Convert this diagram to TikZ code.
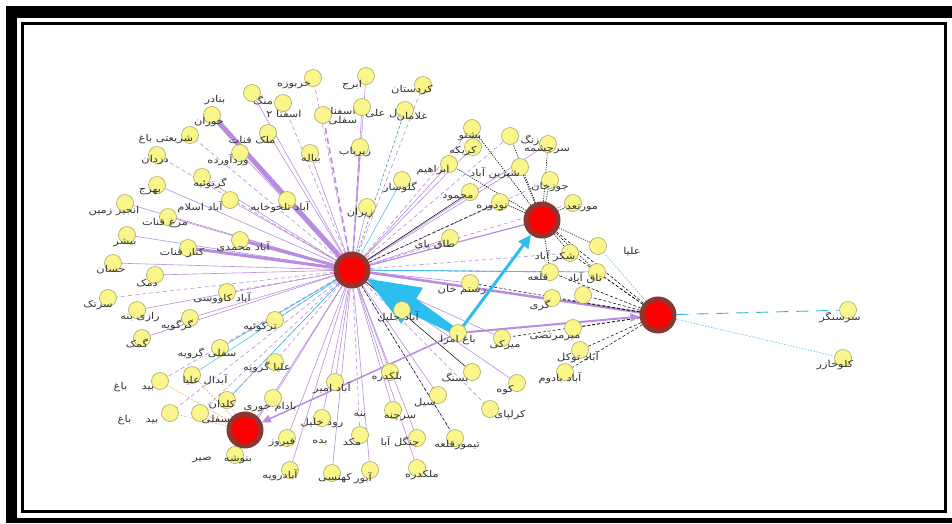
\documentclass[tikz,border=0pt]{standalone}
\usepackage{fontspec}
\newfontfamily\arabicfont[Script=Arabic]{DejaVu Sans}
\TeXXeTstate=1
\usetikzlibrary{calc,arrows.meta}
\definecolor{lav}{RGB}{185,140,225}
\definecolor{cyanA}{RGB}{45,190,240}
\definecolor{teal2}{RGB}{60,150,150}
\definecolor{ringc}{RGB}{140,55,50}
\definecolor{yel}{RGB}{250,246,140}
\definecolor{yelo}{RGB}{170,165,95}
\definecolor{orng}{RGB}{225,165,90}
\newcommand\ar[1]{\scalebox{1.2}[1]{\arabicfont #1}}
\newcommand\yn[6]{\node[yn] (#1) at (#2,#3) {}; \node[lab] (#1l) at (#4,#5) {\ar{#6}};}
\newcommand\tx[4]{\node[lab] (#1) at (#2,#3) {\ar{#4}};}
\pgfdeclarelayer{back}
\pgfdeclarelayer{bg}
\pgfsetlayers{back,bg,main}
\tikzset{
  yn/.style={circle, fill=yel, draw=yelo, line width=0.6pt, minimum size=17pt, inner sep=0pt},
  hub/.style={circle, fill=red, draw=ringc, line width=5pt, minimum size=32pt, inner sep=0pt},
  lab/.style={inner sep=0pt, text=black!80, font=\fontsize{9.5}{10}\selectfont},
  e/.style={draw=lav, line width=0.6pt},
  ed/.style={draw=lav, line width=0.6pt, dash pattern=on 4pt off 3pt},
  edd/.style={draw=lav, line width=1.6pt, dash pattern=on 6pt off 4pt},
  et/.style={draw=lav, line width=#1},
  ek/.style={draw=black, line width=0.5pt, dash pattern=on 3pt off 2pt},
  ekd/.style={draw=black, line width=0.6pt, dash pattern=on 1.2pt off 1.2pt},
  eks/.style={draw=black, line width=0.5pt},
  ec/.style={draw=cyanA, line width=0.5pt},
  ecd/.style={draw=cyanA, line width=0.5pt, dash pattern=on 1.5pt off 1.5pt},
  ecl/.style={draw=cyanA!80!teal2, line width=0.9pt, dash pattern=on 12pt off 8pt},
  etl/.style={draw=teal2, line width=0.6pt, dash pattern=on 3pt off 2pt},
  eo/.style={draw=orng, line width=0.5pt, dash pattern=on 2pt off 1.5pt},
}
\begin{document}
\begin{tikzpicture}[x=1pt,y=-1pt]
\useasboundingbox (0,0) rectangle (952,523);
\begin{pgfonlayer}{back}
\fill[white] (0,0) rectangle (952,523);
\end{pgfonlayer}
% frame
\fill[black] (6,6) rectangle (17,523);
\fill[black] (6,6) rectangle (952,18);
\fill[black] (6,518) rectangle (952,523);
\draw[line width=3pt] (22.5,23.5) rectangle (945.5,511.5);

% hubs
\node[hub] (A) at (352,270) {};
\node[hub] (B) at (542,220) {};
\node[hub] (C) at (658,315) {};
\node[hub] (D) at (245,430) {};

% yellow nodes
\yn{n1}{313}{78}{294}{85}{\beginR خربوزه\endR}
\yn{n2}{252}{93}{263}{100}{\beginR منگ\endR}
\yn{n3}{283}{103}{284}{114}{\beginR اسفنا ۲\endR}
\yn{n4}{323}{115}{343}{111}{\beginR اسفنا\endR}
\tx{n4b}{343}{121}{\beginR سفلی\endR}
\yn{n5}{366}{76}{352}{85}{\beginR ابرج\endR}
\yn{n6}{423}{85}{412}{90}{\beginR کردستان\endR}
\yn{n7}{362}{107}{383}{113}{\beginR آل علی\endR}
\yn{n8}{405}{110}{412}{117}{\beginR غلامان\endR}
\yn{n9}{360}{147}{355}{152}{\beginR زیرباب\endR}
\yn{n10}{212}{115}{209}{122}{\beginR خوران\endR}
\tx{t1}{215}{100}{\beginR بنادر\endR}
\yn{n11}{190}{135}{166}{139}{\beginR شریعتی باغ\endR}
\yn{n12}{268}{133}{252}{140}{\beginR ملک قنات\endR}
\yn{n13}{157}{155}{155}{160}{\beginR دزدان\endR}
\yn{n14}{240}{153}{228}{160}{\beginR وردآورده\endR}
\yn{n15}{310}{153}{311}{159}{\beginR بیاله\endR}
\yn{n16}{202}{177}{210}{183}{\beginR گرتوئیه\endR}
\yn{n17}{157}{185}{150}{192}{\beginR بهرج\endR}
\yn{n18}{230}{200}{200}{207}{\beginR آباد اسلام\endR}
\yn{n19}{125}{203}{114}{211}{\beginR انجیر زمین\endR}
\yn{n20}{287}{200}{280}{207}{\beginR آباد تلخوخابه\endR}
\yn{n21}{168}{217}{165}{223}{\beginR مرغ قنات\endR}
\yn{n22}{127}{235}{125}{243}{\beginR بیشر\endR}
\yn{n23}{240}{240}{243}{247}{\beginR آباد محمدی\endR}
\yn{n24}{188}{248}{182}{253}{\beginR کنار قنات\endR}
\yn{n25}{113}{263}{111}{270}{\beginR حسان\endR}
\yn{n26}{155}{275}{147}{283}{\beginR دمک\endR}
\yn{n27}{227}{292}{222}{298}{\beginR آباد کاووسی\endR}
\yn{n28}{108}{298}{98}{305}{\beginR سرتک\endR}
\yn{n29}{137}{310}{140}{317}{\beginR رازی بنه\endR}
\yn{n30}{190}{318}{177}{325}{\beginR گرگویه\endR}
\yn{n31}{275}{320}{260}{327}{\beginR ترکوئیه\endR}
\yn{n32}{142}{338}{137}{343}{\beginR گمک\endR}
\yn{n33}{220}{348}{207}{353}{\beginR سفلی گرویه\endR}
\yn{n34}{275}{362}{267}{367}{\beginR علیا گرویه\endR}
\yn{n35}{160}{381}{134}{387}{\beginR بید \ \ \ باغ\endR}
\yn{n36}{192}{375}{205}{380}{\beginR آبدال علیا\endR}
\yn{n37}{170}{413}{138}{420}{\beginR بید \ \ \ باغ\endR}
\yn{n38}{200}{413}{216}{420}{\beginR سفلی\endR}
\yn{n39}{227}{400}{222}{405}{\beginR کلدان\endR}
\yn{n40}{273}{398}{270}{407}{\beginR بادام جوری\endR}
\yn{n41}{235}{455}{238}{460}{\beginR بنوشه\endR}
\tx{t2}{202}{460}{\beginR صیر\endR}
\yn{n42}{287}{438}{282}{443}{\beginR فیروز\endR}
\yn{n43}{290}{470}{280}{475}{\beginR آبادرویه\endR}
\yn{n44}{322}{418}{322}{423}{\beginR رود خلیل\endR}
\yn{n45}{335}{382}{332}{388}{\beginR آباد امیر\endR}
\yn{n46}{360}{435}{352}{442}{\beginR مکد\endR}
\tx{t3}{320}{442}{\beginR بده\endR}
\yn{n47}{332}{473}{335}{478}{\beginR کهنسی\endR}
\yn{n48}{370}{470}{363}{478}{\beginR آبور\endR}
\yn{n49}{393}{410}{400}{417}{\beginR سرچنه\endR}
\tx{t4}{360}{415}{\beginR بنه\endR}
\yn{n50}{438}{395}{425}{403}{\beginR سیل\endR}
\yn{n51}{417}{438}{400}{442}{\beginR جنگل آبا\endR}
\yn{n52}{455}{438}{457}{445}{\beginR تیمورقلعه\endR}
\yn{n53}{417}{468}{422}{475}{\beginR ملکدره\endR}
\yn{n54}{450}{238}{435}{245}{\beginR طاق پای\endR}
\yn{n55}{470}{283}{462}{290}{\beginR رستم خان\endR}
\yn{n56}{402}{310}{398}{317}{\beginR آباد جلیل\endR}
\yn{n57}{458}{333}{458}{340}{\beginR باغ امرا\endR}
\yn{n58}{502}{338}{505}{345}{\beginR میرکی\endR}
\yn{n59}{390}{372}{387}{377}{\beginR بلکدره\endR}
\yn{n60}{472}{372}{455}{378}{\beginR بسنگ\endR}
\yn{n61}{517}{383}{505}{390}{\beginR کوه\endR}
\yn{n62}{367}{207}{360}{213}{\beginR زیران\endR}
\yn{n63}{402}{180}{400}{187}{\beginR گلوسار\endR}
\yn{n64}{470}{192}{458}{198}{\beginR محمود\endR}
\yn{n65}{500}{202}{492}{207}{\beginR نودوره\endR}
\yn{n66}{449}{164}{433}{170}{\beginR ابراهیم\endR}
\yn{n67}{472}{128}{470}{137}{\beginR بشتو\endR}
\yn{n68}{473}{147}{463}{151}{\beginR کریکه\endR}
\yn{n69}{510}{136}{530}{140}{\beginR زنگ\endR}
\yn{n70}{548}{144}{547}{150}{\beginR سرچشمه\endR}
\yn{n71}{520}{167}{495}{173}{\beginR شیرین آباد\endR}
\yn{n72}{550}{180}{550}{187}{\beginR جوزخان\endR}
\yn{n73}{573}{203}{582}{208}{\beginR مورتعد\endR}
\yn{n74}{570}{253}{555}{256}{\beginR شکر آباد\endR}
\yn{n75}{598}{246}{632}{252}{\beginR علیا\endR}
\yn{n76}{550}{272}{538}{277}{\beginR قلعه\endR}
\yn{n77}{597}{272}{585}{278}{\beginR تاق آباد\endR}
\yn{n78}{552}{298}{540}{305}{\beginR گری\endR}
\node[yn] (n79) at (583,295) {};
\yn{n80}{573}{328}{555}{337}{\beginR میرمرتضی\endR}
\yn{n81}{580}{350}{578}{357}{\beginR آباد توکل\endR}
\yn{n82}{565}{372}{560}{378}{\beginR آباد بادوم\endR}
\yn{n83}{848}{310}{840}{317}{\beginR سرسنگر\endR}
\yn{n84}{843}{358}{835}{365}{\beginR کلوخازر\endR}
\yn{n85}{490}{409}{510}{415}{\beginR کرلپای\endR}

% cyan arrow geometry
\coordinate (tip) at ($(A)!17pt!(n57)$);
\coordinate (hb) at ($(A)!70pt!(n57)$);

\begin{pgfonlayer}{bg}
% edges to A
\foreach \n in {n2,n5,n7,n12,n14,n15,n16,n17,n18,n19,n20,n21,n22,n25,n26,n29,n30,n32,n40,n44,n45,n54,n56,n59,n62,n66,n68,n71,n55,n58,n61,n53,n51,n50,n49,n47,n48,n43,n42,n41,n70}
  \draw[e] (A) -- (\n);
\foreach \n in {n1,n3,n6,n11,n13,n27,n28,n31,n33,n34,n35,n37,n38,n46,n39,n65,n67,n69,n72,n73,n74,n76,n77,n52,n85}
  \draw[ed] (A) -- (\n);
\draw[edd] (A) -- (n9);
\draw[edd] (A) -- (n4);
\draw[et=5pt] (A) -- (n10);
\draw[et=3pt] (A) -- (n23);
\draw[et=3pt] (A) -- (n24);
\draw[et=2.5pt] (A) -- (C);
\draw[et=1.2pt] (A) -- (B);
\draw[eks] (A) -- (n64);
\draw[ek] (A) -- (n65);
\draw[eks] (A) -- (n60);
\draw[ek] (A) -- (n52);
\draw[etl] (A) -- (n8);
\draw[ec] (A) -- (n63);
\draw[ec] (A) -- (n33);
\draw[ec] (A) -- (n36);
\draw[ec] (A) -- (n39);
\draw[ec] (A) -- (n76);
\draw[ec] (A) -- (n77);
% edges to B
\foreach \n in {n67,n69,n70,n71,n72,n66,n73,n74,n75,n76,n77,n65}
  \draw[ekd] (B) -- (\n);
\draw[ek] (B) -- (C);
% edges to C
\foreach \n in {n74,n76,n77,n78,n79,n80,n81,n82,n55,n58}
  \draw[ek] (C) -- (\n);
\draw[ecl] (C) -- (n83);
\draw[ecd] (C) -- (n84);
\draw[ecd] (C) -- (n75);
% edges to D
\foreach \n in {n35,n36,n37,n38,n39}
  \draw[eo] (D) -- (\n);
\draw[e] (D) -- (n40);
% purple arrows
\draw[et=2pt, -{Triangle[length=9pt,width=8pt]}] (n57) -- (C);
\draw[et=1.5pt, -{Triangle[length=9pt,width=8pt]}] (n57) -- (D);
% cyan arrows
\draw[draw=cyanA, line width=3pt, -{Triangle[length=13pt,width=12pt]}] (n57) -- (B);
\fill[cyanA] ($(n57)!3pt!-90:(A)$) -- ($(hb)!8pt!90:(n57)$) -- ($(hb)!21pt!90:(n57)$) -- (tip)
  -- ($(hb)!21pt!-90:(n57)$) -- ($(hb)!8pt!-90:(n57)$) -- ($(n57)!3pt!90:(A)$) -- cycle;
\end{pgfonlayer}
\end{tikzpicture}
\end{document}
